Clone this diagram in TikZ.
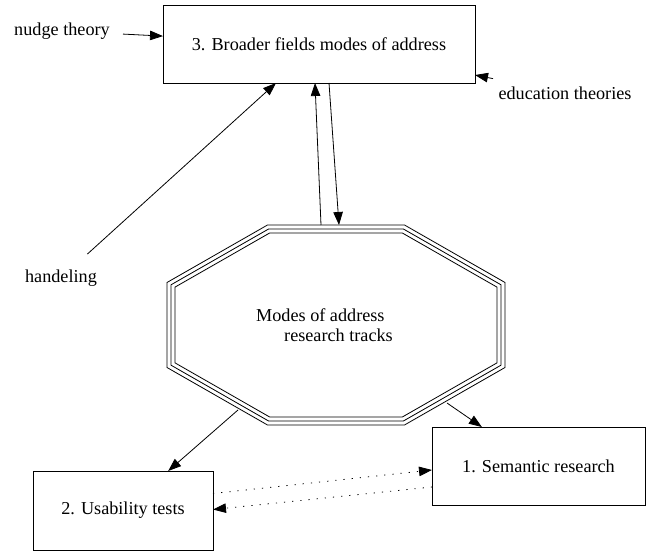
\documentclass[tikz,border=0pt]{standalone}
\usepackage{fontspec}
\setmainfont{Liberation Serif}
\usepackage{tikz}
\usetikzlibrary{arrows.meta}
\usetikzlibrary{positioning,calc}
\tikzset{
    box/.style={
        draw,
        rectangle,
        line width=0.9pt,
        minimum height=78pt,
        inner sep=0pt,
        outer sep=0pt
    },
    plain/.style={
        rectangle,
        minimum height=48pt,
        inner sep=0pt,
        outer sep=0pt
    },
    link/.style={
        draw,
        -{Triangle[length=13pt, width=9.5pt]},
        line width=0.8pt
    },
    every node/.style={font=\fontsize{18.2}{20.5}\selectfont}
}

\begin{document}
\begin{tikzpicture}[x=1pt, y=-1pt]
    \useasboundingbox (0,0) rectangle (649,556);

    % Boxes
    \node[box, minimum width=312pt] (box3) at (319,44) {3. Broader fields modes of address};
    \node[box, minimum width=213pt] (box1) at (538.5,466) {1. Semantic research};
    \node[box, minimum width=180pt, minimum height=79pt] (box2) at (123,510.5) {2. Usability tests};

    % Loose labels
    \node[plain, minimum width=122pt] (nudge) at (62,31) {nudge theory};
    \node[plain, minimum width=144pt] (edu) at (565,93) {education theories};
    \node[plain, minimum width=80pt] (handeling) at (61,278) {handeling};

    % Octagon with three rings
    \foreach \d in {0,4,8} {
        \draw[line width=0.8pt]
            (336-68.5+0.27*\d, 225+\d) -- (336+68.5-0.27*\d, 225+\d)
            -- (505-\d, 325-42.5+0.58*\d) -- (505-\d, 325+42.5-0.58*\d)
            -- (336+68.5-0.27*\d, 425-\d) -- (336-68.5+0.27*\d, 425-\d)
            -- (167+\d, 325+42.5-0.58*\d) -- (167+\d, 325-42.5+0.58*\d)
            -- cycle;
    }
    \node[align=left] (octlabel) at (324.5,325) {Modes of address\\\hspace*{28pt}research tracks};
    \coordinate (octUp) at (321,225);
    \coordinate (octDown) at (339,225);
    \coordinate (octSE) at (447,403);
    \coordinate (octSW) at (238,410);

    % Edges
    \draw[link] (nudge) -- (box3);
    \draw[link] (edu) -- (box3);
    \draw[link] (handeling) -- (box3);
    \draw[link] (octUp) -- ([xshift=-4pt]box3.south);
    \draw[link] ([xshift=10pt]box3.south) -- (octDown);
    \draw[link] (octSE) -- (box1);
    \draw[link] (octSW) -- (box2);
    \draw[link, dash pattern=on 1.2pt off 7pt] ([yshift=17pt]box2.east) -- ([yshift=-4pt]box1.west);
    \draw[link, dash pattern=on 1.2pt off 7pt] ([yshift=-21pt]box1.west) -- ([yshift=1pt]box2.east);
\end{tikzpicture}
\end{document}
